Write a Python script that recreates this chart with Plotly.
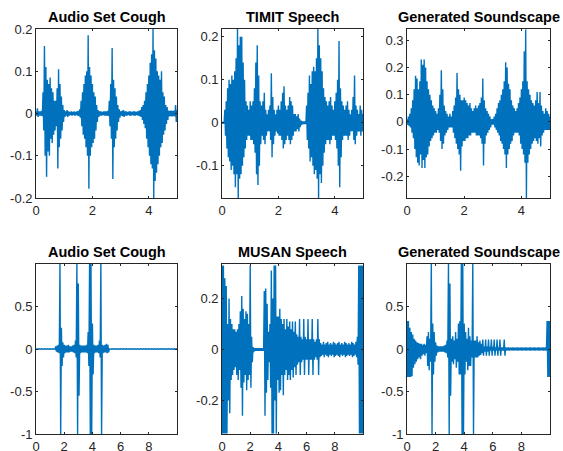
import plotly.graph_objects as go

# ---------------- data (envelope of each waveform) ----------------
TITLES = ["Audio Set Cough", "TIMIT Speech", "Generated Soundscape",
          "Audio Set Cough", "MUSAN Speech", "Generated Soundscape"]

STEP_TOP = 0.05   # s between envelope readings, top row (0..5 s)
STEP_BOT = 0.1    # s between envelope readings, bottom row (0..10 s)

U1 = [0.005, 0.012, 0.005, 0.005, 0.006, 0.05, 0.16, 0.11, 0.08, 0.07,
      0.085, 0.06, 0.05, 0.03, 0.03, 0.06, 0.105, 0.07, 0.04, 0.02,
      0.008, 0.005, 0.008, 0.005, 0.004, 0.005, 0.004, 0.005, 0.004, 0.005,
      0.006, 0.01, 0.03, 0.05, 0.07, 0.09, 0.10, 0.185, 0.11, 0.09,
      0.07, 0.05, 0.04, 0.02, 0.008, 0.005, 0.005, 0.004, 0.005, 0.005,
      0.005, 0.006, 0.03, 0.07, 0.155, 0.08, 0.06, 0.04, 0.02, 0.01,
      0.005, 0.006, 0.008, 0.005, 0.005, 0.004, 0.005, 0.005, 0.004, 0.005,
      0.005, 0.004, 0.005, 0.006, 0.008, 0.015, 0.02, 0.03, 0.05, 0.07,
      0.09, 0.12, 0.14, 0.20, 0.15, 0.13, 0.10, 0.09, 0.08, 0.10,
      0.05, 0.04, 0.02, 0.015, 0.007, 0.006, 0.007, 0.006, 0.007, 0.02,
      0.008]
L1 = [-0.005, -0.008, -0.005, -0.005, -0.006, -0.04, -0.10, -0.15, -0.09, -0.10,
      -0.06, -0.07, -0.05, -0.04, -0.03, -0.13, -0.08, -0.06, -0.04, -0.02,
      -0.008, -0.005, -0.008, -0.005, -0.004, -0.005, -0.004, -0.005, -0.004, -0.005,
      -0.006, -0.01, -0.03, -0.05, -0.06, -0.08, -0.10, -0.178, -0.10, -0.08,
      -0.07, -0.06, -0.04, -0.02, -0.008, -0.005, -0.005, -0.004, -0.005, -0.005,
      -0.005, -0.006, -0.03, -0.06, -0.155, -0.08, -0.06, -0.04, -0.02, -0.01,
      -0.005, -0.006, -0.008, -0.005, -0.005, -0.004, -0.005, -0.005, -0.004, -0.005,
      -0.005, -0.004, -0.005, -0.006, -0.008, -0.015, -0.025, -0.035, -0.06, -0.08,
      -0.10, -0.12, -0.13, -0.20, -0.16, -0.14, -0.12, -0.10, -0.08, -0.07,
      -0.05, -0.04, -0.025, -0.015, -0.007, -0.006, -0.007, -0.006, -0.007, -0.02,
      -0.008]

U2 = [0.002, 0.002, 0.03, 0.05, 0.08, 0.10, 0.09, 0.11, 0.10, 0.12,
      0.15, 0.22, 0.18, 0.20, 0.20, 0.14, 0.10, 0.05, 0.04, 0.03,
      0.05, 0.04, 0.05, 0.08, 0.14, 0.18, 0.11, 0.05, 0.04, 0.05,
      0.07, 0.03, 0.02, 0.03, 0.04, 0.115, 0.06, 0.03, 0.02, 0.03,
      0.04, 0.03, 0.05, 0.07, 0.085, 0.04, 0.03, 0.04, 0.06, 0.05,
      0.04, 0.02, 0.02, 0.015, 0.02, 0.01, 0.005, 0.003, 0.003, 0.003,
      0.04, 0.07, 0.11, 0.09, 0.12, 0.13, 0.12, 0.15, 0.22, 0.18,
      0.15, 0.12, 0.08, 0.06, 0.05, 0.04, 0.05, 0.06, 0.04, 0.03,
      0.05, 0.07, 0.10, 0.19, 0.08, 0.05, 0.04, 0.03, 0.04, 0.05,
      0.03, 0.02, 0.03, 0.06, 0.11, 0.04, 0.03, 0.02, 0.04, 0.03,
      0.02]
L2 = [-0.002, -0.002, -0.03, -0.06, -0.08, -0.09, -0.11, -0.10, -0.12, -0.15,
      -0.12, -0.18, -0.13, -0.12, -0.10, -0.08, -0.06, -0.04, -0.03, -0.03,
      -0.04, -0.04, -0.05, -0.07, -0.12, -0.145, -0.10, -0.05, -0.03, -0.04,
      -0.05, -0.03, -0.02, -0.02, -0.04, -0.08, -0.05, -0.03, -0.02, -0.025,
      -0.03, -0.03, -0.04, -0.06, -0.05, -0.04, -0.03, -0.04, -0.05, -0.04,
      -0.03, -0.02, -0.02, -0.015, -0.02, -0.01, -0.005, -0.003, -0.003, -0.003,
      -0.04, -0.06, -0.09, -0.08, -0.10, -0.12, -0.11, -0.13, -0.18, -0.12,
      -0.14, -0.10, -0.07, -0.05, -0.04, -0.04, -0.05, -0.04, -0.03, -0.03,
      -0.04, -0.06, -0.10, -0.15, -0.08, -0.04, -0.03, -0.03, -0.03, -0.04,
      -0.03, -0.02, -0.02, -0.04, -0.05, -0.03, -0.02, -0.02, -0.03, -0.02,
      -0.02]

U3 = [0.01, 0.02, 0.03, 0.05, 0.08, 0.12, 0.17, 0.16, 0.12, 0.15,
      0.23, 0.21, 0.23, 0.20, 0.15, 0.12, 0.10, 0.08, 0.06, 0.05,
      0.04, 0.03, 0.05, 0.10, 0.19, 0.12, 0.06, 0.04, 0.03, 0.02,
      0.03, 0.02, 0.04, 0.06, 0.09, 0.18, 0.12, 0.10, 0.08, 0.08,
      0.09, 0.08, 0.07, 0.06, 0.07, 0.05, 0.04, 0.05, 0.06, 0.05,
      0.06, 0.07, 0.09, 0.16, 0.08, 0.05, 0.04, 0.03, 0.02, 0.01,
      0.01, 0.02, 0.03, 0.05, 0.07, 0.08, 0.10, 0.12, 0.15, 0.22,
      0.20, 0.14, 0.12, 0.08, 0.06, 0.05, 0.04, 0.05, 0.07, 0.09,
      0.12, 0.15, 0.26, 0.34, 0.15, 0.12, 0.10, 0.08, 0.07, 0.06,
      0.08, 0.11, 0.07, 0.11, 0.06, 0.04, 0.03, 0.05, 0.04, 0.03,
      0.02]
L3 = [-0.01, -0.015, -0.02, -0.04, -0.06, -0.10, -0.13, -0.15, -0.16, -0.12,
      -0.17, -0.14, -0.17, -0.13, -0.12, -0.09, -0.07, -0.06, -0.05, -0.04,
      -0.04, -0.03, -0.04, -0.07, -0.10, -0.08, -0.05, -0.04, -0.03, -0.02,
      -0.02, -0.02, -0.04, -0.06, -0.08, -0.10, -0.12, -0.18, -0.09, -0.07,
      -0.07, -0.06, -0.06, -0.05, -0.05, -0.04, -0.04, -0.04, -0.05, -0.05,
      -0.05, -0.06, -0.08, -0.16, -0.08, -0.05, -0.04, -0.03, -0.02, -0.01,
      -0.01, -0.02, -0.03, -0.04, -0.05, -0.07, -0.08, -0.10, -0.12, -0.17,
      -0.12, -0.10, -0.08, -0.07, -0.05, -0.04, -0.04, -0.04, -0.05, -0.08,
      -0.10, -0.12, -0.15, -0.28, -0.15, -0.12, -0.10, -0.08, -0.07, -0.06,
      -0.07, -0.08, -0.06, -0.09, -0.05, -0.04, -0.03, -0.03, -0.03, -0.03,
      -0.02]

U4 = [0.002, 0.002, 0.002, 0.002, 0.002, 0.002, 0.002, 0.002, 0.002, 0.002,
      0.002, 0.002, 0.002, 0.002, 0.03, 0.04, 0.05, 1.0, 0.25, 0.08,
      0.05, 0.04, 0.04, 0.05, 0.03, 0.03, 0.04, 0.05, 0.10, 1.0,
      0.77, 0.05, 0.04, 0.04, 0.04, 0.04, 0.05, 0.20, 1.0, 1.0,
      0.30, 0.05, 0.04, 0.04, 0.05, 0.10, 1.0, 0.05, 0.04, 0.05,
      0.06, 0.05, 0.002, 0.002, 0.002, 0.002, 0.002, 0.002, 0.002, 0.002,
      0.002, 0.002, 0.002, 0.002, 0.002, 0.002, 0.002, 0.002, 0.002, 0.002,
      0.002, 0.002, 0.002, 0.002, 0.002, 0.002, 0.002, 0.002, 0.002, 0.002,
      0.002, 0.002, 0.002, 0.002, 0.002, 0.002, 0.002, 0.002, 0.002, 0.002,
      0.002, 0.002, 0.002, 0.002, 0.002, 0.002, 0.002, 0.002, 0.002, 0.002,
      0.002]
L4 = [-0.002, -0.002, -0.002, -0.002, -0.002, -0.002, -0.002, -0.002, -0.002, -0.002,
      -0.002, -0.002, -0.002, -0.002, -0.03, -0.04, -0.05, -1.0, -0.20, -0.10,
      -0.05, -0.04, -0.04, -0.04, -0.03, -0.03, -0.04, -0.05, -0.10, -1.0,
      -0.55, -0.05, -0.04, -0.04, -0.04, -0.04, -0.05, -0.20, -1.0, -1.0,
      -0.30, -0.05, -0.04, -0.04, -0.05, -0.10, -1.0, -0.05, -0.04, -0.04,
      -0.05, -0.04, -0.002, -0.002, -0.002, -0.002, -0.002, -0.002, -0.002, -0.002,
      -0.002, -0.002, -0.002, -0.002, -0.002, -0.002, -0.002, -0.002, -0.002, -0.002,
      -0.002, -0.002, -0.002, -0.002, -0.002, -0.002, -0.002, -0.002, -0.002, -0.002,
      -0.002, -0.002, -0.002, -0.002, -0.002, -0.002, -0.002, -0.002, -0.002, -0.002,
      -0.002, -0.002, -0.002, -0.002, -0.002, -0.002, -0.002, -0.002, -0.002, -0.002,
      -0.002]

U5 = [0.33, 0.33, 0.28, 0.25, 0.10, 0.20, 0.12, 0.10, 0.08, 0.08,
      0.07, 0.08, 0.10, 0.15, 0.21, 0.16, 0.12, 0.15, 0.14, 0.10,
      0.33, 0.05, 0.01, 0.005, 0.005, 0.005, 0.005, 0.005, 0.005, 0.005,
      0.23, 0.24, 0.18, 0.07, 0.10, 0.31, 0.20, 0.33, 0.33, 0.13,
      0.13, 0.16, 0.12, 0.10, 0.12, 0.08, 0.12, 0.09, 0.11, 0.08,
      0.11, 0.07, 0.11, 0.06, 0.05, 0.12, 0.05, 0.04, 0.12, 0.05,
      0.04, 0.12, 0.04, 0.04, 0.12, 0.04, 0.03, 0.04, 0.12, 0.04,
      0.025, 0.02, 0.03, 0.02, 0.025, 0.03, 0.02, 0.025, 0.02, 0.03,
      0.025, 0.02, 0.025, 0.03, 0.02, 0.025, 0.02, 0.03, 0.025, 0.02,
      0.025, 0.02, 0.03, 0.025, 0.02, 0.03, 0.05, 0.33, 0.33, 0.33,
      0.33]
L5 = [-0.33, -0.33, -0.33, -0.33, -0.20, -0.25, -0.12, -0.10, -0.08, -0.07,
      -0.10, -0.12, -0.08, -0.15, -0.26, -0.13, -0.10, -0.16, -0.12, -0.10,
      -0.15, -0.05, -0.01, -0.005, -0.005, -0.005, -0.005, -0.005, -0.005, -0.005,
      -0.26, -0.17, -0.12, -0.05, -0.15, -0.33, -0.33, -0.20, -0.33, -0.12,
      -0.17, -0.16, -0.10, -0.18, -0.10, -0.08, -0.12, -0.10, -0.12, -0.08,
      -0.11, -0.07, -0.10, -0.06, -0.05, -0.10, -0.05, -0.04, -0.10, -0.04,
      -0.04, -0.10, -0.04, -0.04, -0.10, -0.04, -0.03, -0.04, -0.10, -0.03,
      -0.025, -0.02, -0.03, -0.02, -0.025, -0.03, -0.02, -0.025, -0.02, -0.03,
      -0.025, -0.02, -0.025, -0.03, -0.02, -0.025, -0.02, -0.03, -0.025, -0.02,
      -0.025, -0.02, -0.03, -0.025, -0.02, -0.03, -0.06, -0.33, -0.33, -0.33,
      -0.33]

U6 = [0.33, 0.33, 0.25, 0.20, 0.17, 0.12, 0.10, 0.08, 0.07, 0.06,
      0.06, 0.05, 0.06, 0.05, 0.15, 0.20, 0.12, 1.0, 0.30, 0.20,
      0.08, 0.04, 0.03, 0.03, 0.03, 0.03, 0.04, 0.05, 0.10, 1.0,
      0.77, 0.12, 0.15, 0.10, 0.20, 0.12, 0.30, 0.33, 1.0, 1.0,
      0.30, 0.20, 0.12, 0.25, 0.15, 0.10, 1.0, 0.10, 0.10, 0.15,
      0.08, 0.10, 0.06, 0.11, 0.03, 0.11, 0.03, 0.11, 0.03, 0.11,
      0.03, 0.11, 0.02, 0.11, 0.02, 0.11, 0.02, 0.02, 0.11, 0.02,
      0.015, 0.02, 0.015, 0.015, 0.02, 0.015, 0.015, 0.02, 0.015, 0.015,
      0.02, 0.015, 0.015, 0.02, 0.015, 0.015, 0.02, 0.015, 0.015, 0.02,
      0.015, 0.015, 0.02, 0.015, 0.015, 0.02, 0.015, 0.02, 0.33, 0.33,
      0.33]
L6 = [-0.33, -0.33, -0.33, -0.32, -0.22, -0.18, -0.15, -0.12, -0.10, -0.12,
      -0.08, -0.06, -0.08, -0.05, -0.20, -0.25, -0.15, -1.0, -0.30, -0.15,
      -0.08, -0.04, -0.03, -0.03, -0.03, -0.03, -0.04, -0.05, -0.10, -1.0,
      -0.55, -0.15, -0.18, -0.12, -0.22, -0.15, -0.30, -0.30, -1.0, -1.0,
      -0.30, -0.15, -0.25, -0.20, -0.20, -0.10, -1.0, -0.10, -0.10, -0.10,
      -0.08, -0.07, -0.05, -0.08, -0.03, -0.08, -0.03, -0.08, -0.02, -0.08,
      -0.02, -0.08, -0.02, -0.08, -0.02, -0.08, -0.02, -0.02, -0.08, -0.02,
      -0.015, -0.02, -0.015, -0.015, -0.02, -0.015, -0.015, -0.02, -0.015, -0.015,
      -0.02, -0.015, -0.015, -0.02, -0.015, -0.015, -0.02, -0.015, -0.015, -0.02,
      -0.015, -0.015, -0.02, -0.015, -0.015, -0.02, -0.015, -0.02, -0.33, -0.33,
      -0.33]

X_RANGES = [[0, 5], [0, 5], [0, 5], [0, 10], [0, 10], [0, 10]]
Y_RANGES = [[-0.2, 0.2], [-0.175, 0.218], [-0.28, 0.342],
            [-1, 1], [-0.332, 0.336], [-1, 1]]
X_TICKS = [[0, 2, 4], [0, 2, 4], [0, 2, 4],
           [0, 2, 4, 6, 8], [0, 2, 4, 6, 8], [0, 2, 4, 6, 8]]
Y_TICKS = [[-0.2, -0.1, 0, 0.1, 0.2], [-0.1, 0, 0.1, 0.2],
           [-0.2, -0.1, 0, 0.1, 0.2, 0.3], [-1, -0.5, 0, 0.5],
           [-0.2, 0, 0.2], [-1, -0.5, 0, 0.5]]

UPPER = [U1, U2, U3, U4, U5, U6]
LOWER = [L1, L2, L3, L4, L5, L6]
STEPS = [STEP_TOP, STEP_TOP, STEP_TOP, STEP_BOT, STEP_BOT, STEP_BOT]

# ---------------- layout ----------------
W, H = 563, 451
X_PX = [(36, 177), (222, 363), (407, 550)]
Y_PX = [(29, 198), (264, 434)]
BLUE = "#0072BD"
AX = "#262626"
FONT = "Liberation Sans, Arial, Helvetica, sans-serif"

fig = go.Figure()
annotations = []
for k in range(6):
    row, col = divmod(k, 3)
    sfx = "" if k == 0 else str(k + 1)
    xs, ys = [], []
    for i, (u, l) in enumerate(zip(UPPER[k], LOWER[k])):
        t = i * STEPS[k]
        xs += [t, t + STEPS[k] / 2]
        ys += [u, l]
    fig.add_trace(go.Scatter(x=xs, y=ys, mode="lines",
                             line=dict(color=BLUE, width=1.4),
                             xaxis=f"x{sfx}", yaxis=f"y{sfx}",
                             showlegend=False, hoverinfo="skip"))
    x0, x1 = X_PX[col]
    y0, y1 = Y_PX[row]
    common = dict(showline=True, linecolor=AX, linewidth=0.8, mirror="ticks",
                  ticks="inside", ticklen=2, tickwidth=0.8, tickcolor=AX,
                  showgrid=False, zeroline=False, automargin=False,
                  tickfont=dict(family=FONT, size=13, color=AX))
    fig.layout[f"xaxis{sfx}"] = dict(domain=[x0 / W, x1 / W], range=X_RANGES[k],
                                     tickvals=X_TICKS[k],
                                     ticktext=[str(v) for v in X_TICKS[k]],
                                     anchor=f"y{sfx}", **common)
    fig.layout[f"yaxis{sfx}"] = dict(domain=[1 - y1 / H, 1 - y0 / H], range=Y_RANGES[k],
                                     tickvals=Y_TICKS[k],
                                     ticktext=[f"{v:g}" for v in Y_TICKS[k]],
                                     anchor=f"x{sfx}", **common)
    annotations.append(dict(text=f"<b>{TITLES[k]}</b>", xref=f"x{sfx} domain",
                            yref=f"y{sfx} domain", x=0.5, y=1, yanchor="bottom",
                            xanchor="center", yshift=2, showarrow=False,
                            font=dict(family=FONT, size=14.5, color="black")))

fig.update_layout(width=W, height=H, margin=dict(l=0, r=0, t=0, b=0),
                  paper_bgcolor="white", plot_bgcolor="white",
                  annotations=annotations)
fig.write_html("out.html", config={"displayModeBar": False},
               post_script="document.body.style.margin='0';")
